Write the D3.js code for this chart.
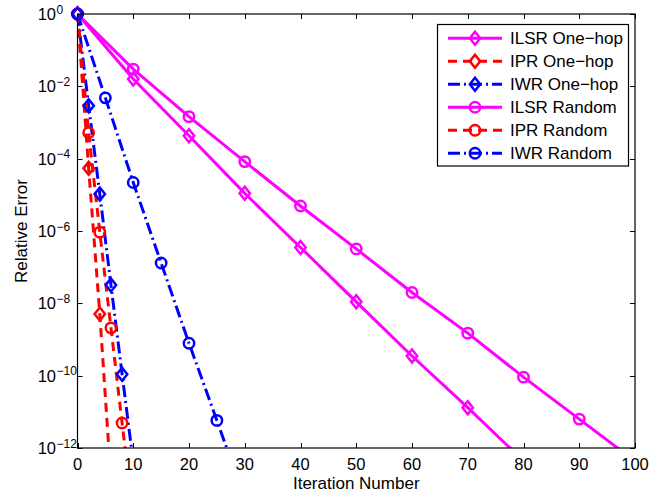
<!DOCTYPE html>
<html>
<head>
<meta charset="utf-8">
<script src="https://cdn.jsdelivr.net/npm/d3@7"></script>
<style>
  html, body { margin: 0; padding: 0; background: #fff; }
  svg { display: block; font-family: "Liberation Sans", Arial, Helvetica, sans-serif; }
</style>
</head>
<body>
<svg id="chart" width="651" height="492"></svg>
<script>
// ---------- data ----------
const seriesNames = ["ILSR One\u2212hop", "IPR One\u2212hop", "IWR One\u2212hop", "ILSR Random", "IPR Random", "IWR Random"];

const ilsrOneHopX = [0, 10, 20, 30, 40, 50, 60, 70, 78];
const ilsrOneHopY = [1, 1.6e-2, 4.3e-4, 1.1e-5, 3.5e-7, 1.1e-8, 3.5e-10, 1.3e-11, 8.7e-13];

const iprOneHopX = [0, 2, 4, 6];
const iprOneHopY = [1, 5.4e-5, 5.1e-9, 1.3e-13];

const iwrOneHopX = [0, 2, 4, 6, 8, 10];
const iwrOneHopY = [1, 2.9e-3, 1.05e-5, 3.2e-8, 1.1e-10, 4e-13];

const ilsrRandomX = [0, 10, 20, 30, 40, 50, 60, 70, 80, 90, 98];
const ilsrRandomY = [1, 3.0e-2, 1.45e-3, 8.3e-5, 4.9e-6, 3.2e-7, 2.0e-8, 1.5e-9, 9.1e-11, 6.3e-12, 7.4e-13];

const iprRandomX = [0, 2, 4, 6, 8, 9];
const iprRandomY = [1, 5.2e-4, 9.3e-7, 2.1e-9, 4.9e-12, 2.5e-13];

const iwrRandomX = [0, 5, 10, 15, 20, 25, 27];
const iwrRandomY = [1, 4.8e-3, 2.2e-5, 1.3e-7, 7.9e-10, 5.8e-12, 7.9e-13];

const xTicks = [0, 10, 20, 30, 40, 50, 60, 70, 80, 90, 100];
const yTickExponents = [0, -2, -4, -6, -8, -10, -12];

const xLabel = "Iteration Number";
const yLabel = "Relative Error";

// ---------- styles ----------
const styles = [
  { color: "#ff00ff", dash: null,          marker: "diamond" },
  { color: "#ff0000", dash: "9,6",         marker: "diamond" },
  { color: "#0000ff", dash: "12,4,2,4",    marker: "diamond" },
  { color: "#ff00ff", dash: null,          marker: "circle" },
  { color: "#ff0000", dash: "9,6",         marker: "circle" },
  { color: "#0000ff", dash: "12,4,2,4",    marker: "circle" }
];

const seriesX = [ilsrOneHopX, iprOneHopX, iwrOneHopX, ilsrRandomX, iprRandomX, iwrRandomX];
const seriesY = [ilsrOneHopY, iprOneHopY, iwrOneHopY, ilsrRandomY, iprRandomY, iwrRandomY];

const series = seriesNames.map((name, i) => ({
  name,
  ...styles[i],
  points: seriesX[i].map((xv, j) => ({ x: xv, y: seriesY[i][j] }))
}));

// ---------- layout ----------
const svg = d3.select("#chart");
const pLeft = 77.5, pRight = 635, pTop = 14, pBottom = 448;

const x = d3.scaleLinear().domain([0, 100]).range([pLeft, pRight]);
const y = d3.scaleLog().domain([1e-12, 1]).range([pBottom, pTop]);

svg.append("defs").append("clipPath").attr("id", "plotclip")
  .append("rect").attr("x", pLeft).attr("y", pTop).attr("width", pRight - pLeft).attr("height", pBottom - pTop);

// ticks (inside, all four sides)
const tickLen = 5;
const tg = svg.append("g").attr("stroke", "#000").attr("stroke-width", 1);
xTicks.forEach(t => {
  const px = Math.round(x(t)) + 0.5;
  tg.append("line").attr("x1", px).attr("x2", px).attr("y1", pBottom).attr("y2", pBottom - tickLen);
  tg.append("line").attr("x1", px).attr("x2", px).attr("y1", pTop).attr("y2", pTop + tickLen);
});
yTickExponents.forEach(e => {
  const py = Math.round(y(Math.pow(10, e))) + 0.5;
  tg.append("line").attr("x1", pLeft).attr("x2", pLeft + tickLen).attr("y1", py).attr("y2", py);
  tg.append("line").attr("x1", pRight).attr("x2", pRight - tickLen).attr("y1", py).attr("y2", py);
});

// lines
const line = d3.line().x(d => x(d.x)).y(d => y(d.y));
const linesG = svg.append("g").attr("clip-path", "url(#plotclip)");
series.forEach(s => {
  linesG.append("path").datum(s.points)
    .attr("d", line)
    .attr("fill", "none")
    .attr("stroke", s.color)
    .attr("stroke-width", 3)
    .attr("stroke-linejoin", "round")
    .attr("stroke-dasharray", s.dash);
});

function drawMarker(g, type, cx, cy, color) {
  if (type === "circle") {
    g.append("circle").attr("cx", cx).attr("cy", cy).attr("r", 5.2)
      .attr("fill", "none").attr("stroke", color).attr("stroke-width", 2.5);
  } else {
    const w = 5.2, h = 6.5;
    g.append("path")
      .attr("d", `M${cx},${cy - h}L${cx + w},${cy}L${cx},${cy + h}L${cx - w},${cy}Z`)
      .attr("fill", "none").attr("stroke", color).attr("stroke-width", 2.5)
      .attr("stroke-linejoin", "miter");
  }
}

// markers (only for points inside the y domain)
const markG = svg.append("g");
series.forEach(s => {
  s.points.filter(p => p.y >= 1e-12).forEach(p => drawMarker(markG, s.marker, x(p.x), y(p.y), s.color));
});

// axes box
svg.append("rect").attr("x", pLeft).attr("y", pTop).attr("width", pRight - pLeft).attr("height", pBottom - pTop)
  .attr("fill", "none").attr("stroke", "#000").attr("stroke-width", 1.2);

// x tick labels
svg.append("g").selectAll("text").data(xTicks).join("text")
  .attr("x", d => x(d)).attr("y", 469.5)
  .attr("text-anchor", "middle").attr("font-size", 16.5).attr("fill", "#000")
  .text(d => d);

// y tick labels: 10^e
const yl = svg.append("g").attr("fill", "#000");
yTickExponents.forEach(e => {
  const py = y(Math.pow(10, e));
  yl.append("text").attr("x", 56).attr("y", py + 6).attr("text-anchor", "end").attr("font-size", 16.5).text("10");
  yl.append("text").attr("x", 56.5).attr("y", py - 0.5).attr("text-anchor", "start").attr("font-size", 12)
    .text(e === 0 ? "0" : "\u2212" + Math.abs(e));
});

// axis labels
svg.append("text").attr("x", (pLeft + pRight) / 2).attr("y", 489).attr("text-anchor", "middle")
  .attr("font-size", 17).attr("fill", "#000").text(xLabel);
svg.append("text").attr("transform", `translate(27,${(pTop + pBottom) / 2}) rotate(-90)`)
  .attr("text-anchor", "middle").attr("font-size", 17).attr("fill", "#000").text(yLabel);

// legend
const lg = svg.append("g");
lg.append("rect").attr("x", 437.5).attr("y", 24.5).attr("width", 191).attr("height", 141.5)
  .attr("fill", "#fff").attr("stroke", "#000").attr("stroke-width", 1.2);
series.forEach((s, i) => {
  const cy = 38.3 + i * 23;
  lg.append("line").attr("x1", 448).attr("x2", 502).attr("y1", cy).attr("y2", cy)
    .attr("stroke", s.color).attr("stroke-width", 3).attr("stroke-dasharray", s.dash);
  drawMarker(lg, s.marker, 475, cy, s.color);
  lg.append("text").attr("x", 510).attr("y", cy + 6).attr("font-size", 17).attr("fill", "#000").text(s.name);
});
</script>
</body>
</html>
